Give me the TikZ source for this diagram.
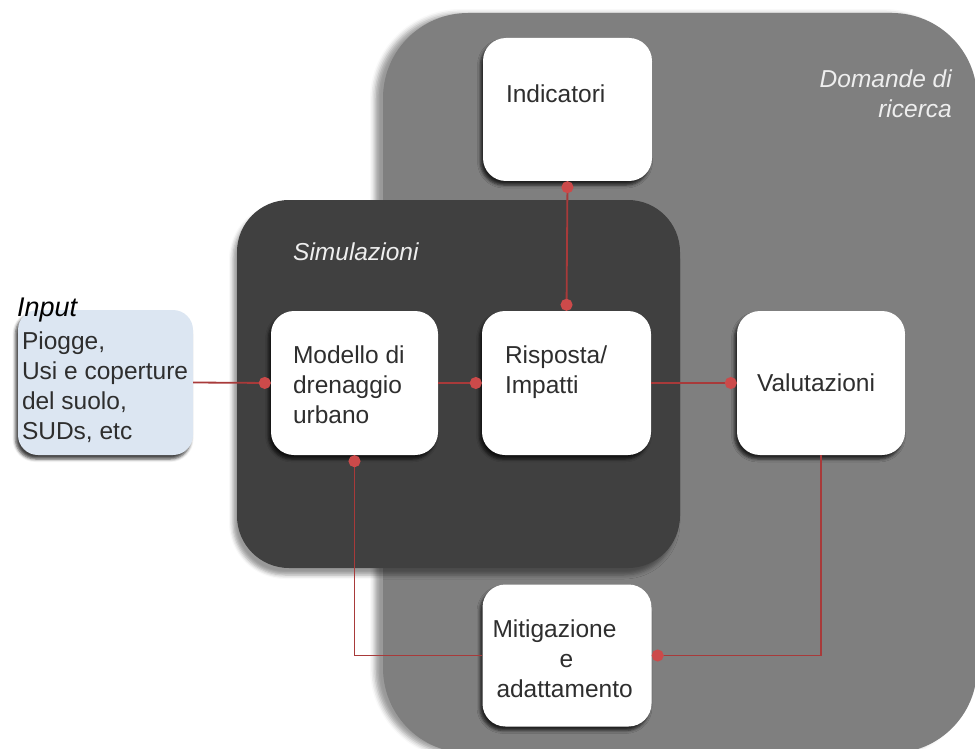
\documentclass[tikz,border=0pt]{standalone}
\usepackage{fontspec}
\setmainfont{Liberation Sans}
\usetikzlibrary{calc,arrows.meta,shadows.blur}

\definecolor{outergray}{HTML}{7F7F7F}
\definecolor{innergray}{HTML}{404040}
\definecolor{inputblue}{HTML}{DCE6F2}
\definecolor{linkred}{HTML}{A83A3A}
\definecolor{dotred}{HTML}{CC4A4A}
\definecolor{bodytext}{HTML}{2E2E2E}
\definecolor{softwhite}{HTML}{EEEEEE}

\begin{document}
\begin{tikzpicture}[x=1pt,y=-1pt,
  bodyfont/.style={font=\fontsize{24.5}{30}\selectfont},
  card/.style={draw=none, fill=white, rounded corners=23pt, inner sep=0pt,
    blur shadow={shadow xshift=-2.5pt, shadow yshift=-4pt,
      shadow blur radius=3pt, shadow opacity=75}},
  cardtext/.style={bodyfont, text=bodytext, inner sep=0pt, align=left, anchor=north west},
  area/.style={draw=none, inner sep=0pt},
  caption/.style={font=\fontsize{24.5}{30}\itshape\selectfont, text=softwhite, inner sep=0pt},
  link/.style={draw=linkred, line width=1.8pt},
  dot/.style={-{Circle[length=12pt, color=dotred]}},
  dots/.style={{Circle[length=12pt, color=dotred]}-{Circle[length=12pt, color=dotred]}},
]
\useasboundingbox (0,0) rectangle (975,749);
\begin{scope}
\clip (0,0) rectangle (975,749);

% research questions area
\node[area, fill=outergray, rounded corners=85pt,
  minimum width=594pt, minimum height=740pt,
  blur shadow={shadow xshift=-8pt, shadow yshift=-1pt, shadow blur radius=5pt, shadow opacity=40}]
  (dom) at (680,383) {};

% simulation area
\node[area, fill=innergray, rounded corners=52pt,
  minimum width=443pt, minimum height=368pt,
  blur shadow={shadow xshift=-4pt, shadow yshift=-7pt, shadow blur radius=4pt, shadow opacity=40}]
  (sim) at (458.5,384) {};
\end{scope}

\node[caption, anchor=base west] (simlabel) at (293,260) {Simulazioni};
\node[caption, anchor=base east] (domlabel1) at (952,88) {Domande di};
\node[caption, anchor=base east] (domlabel2) at (952,118) {ricerca};

% input box
\node[card, fill=inputblue, rounded corners=20pt, minimum width=175pt, minimum height=145pt]
  (in) at (105.5,382.5) {};
\node[font=\fontsize{27}{30}\itshape\selectfont, text=black, inner sep=0pt, anchor=base west]
  (inlabel) at (17,316) {Input};
\node[cardtext] (intext) at ($(in.north west)+(4,21.5)$)
  {Piogge,\\Usi e coperture\\del suolo,\\SUDs, etc};

% process boxes
\node[card, minimum width=169pt, minimum height=143pt] (ind) at (567.5,109.5) {};
\node[card, minimum width=167pt, minimum height=144pt] (mod) at (354.5,383) {};
\node[card, minimum width=169pt, minimum height=144pt] (risp) at (566.5,383) {};
\node[card, minimum width=168pt, minimum height=144pt] (val) at (821,383) {};
\node[card, minimum width=169pt, minimum height=142pt] (mit) at (567,655.5) {};

\node[cardtext] (indtext) at ($(ind.north west)+(23,47)$) {Indicatori};
\node[cardtext] (modtext) at ($(mod.north west)+(22,35)$) {Modello di\\drenaggio\\urbano};
\node[cardtext] (risptext) at ($(risp.north west)+(23,35)$) {Risposta/\\Impatti};
\node[cardtext, anchor=west] (valtext) at ($(val.west)+(20,0)$) {Valutazioni};
\node[cardtext] (mittext) at ($(mit.north west)+(10,35)$)
  {Mitigazione\\\hspace*{67pt}e\\\hspace*{4pt}adattamento};

% connectors
\draw[link, dot] (in.east) -- (mod.west);
\draw[link, dot] (mod.east) -- (risp.west);
\draw[link, dot] (risp.east) -- (val.west);
\draw[link, dots] (ind.south) -- (risp.north);
\draw[link, dot] (val.south) |- (mit.east);
\draw[link, dot] (mit.west) -| (mod.south);
\end{tikzpicture}
\end{document}
